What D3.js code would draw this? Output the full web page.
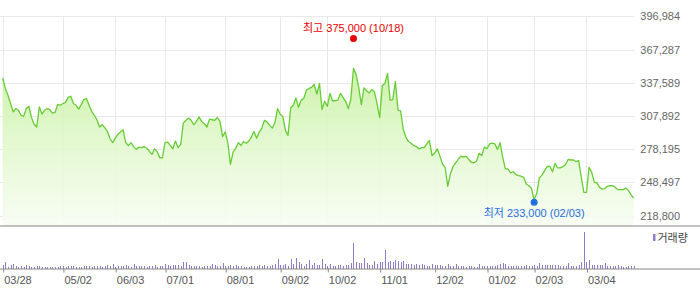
<!DOCTYPE html>
<html>
<head>
<meta charset="utf-8">
<script src="https://cdn.jsdelivr.net/npm/d3@7"></script>
<style>
  body { margin: 0; background: #fff; }
  svg { display: block; font-family: "Liberation Sans", "Noto Sans CJK KR", sans-serif; }
</style>
</head>
<body>
<div id="chart"></div>
<script>
const width = 700;
const height = 289;

// 일별 종가 (03/28 ~ 03/28, 거래일 기준)
const closes = [
  342000,332500,326500,319000,311500,314500,313000,308500,307500,314500,
  316500,306500,300500,298000,316000,309500,313000,314500,313500,310500,
  311000,318000,317500,319000,320000,324500,325500,319000,317500,314000,
  318000,322500,323500,317500,312000,308500,304500,298000,300000,297500,
  294000,287500,284000,288000,291500,293500,295500,284000,281500,284000,
  280500,278000,280000,279500,280500,279000,276500,273500,278500,276000,
  270500,270500,284000,284500,281500,278500,285500,279500,282500,301500,
  304000,306000,304000,300000,303000,307000,303000,301000,298000,305000,
  304500,304000,306500,303000,289500,293500,284000,264500,275500,279000,
  284000,281500,285000,283500,285500,289000,294000,288000,293500,297000,
  304000,302500,299500,297000,302000,314500,309500,307500,295000,290500,
  315000,317500,324000,315500,322000,323500,331000,332500,333500,336000,
  327500,337000,313500,321000,316500,328000,321500,321500,322000,328000,
  324500,321000,314500,323000,350500,345000,333500,318000,333000,330500,
  328500,331500,329500,319000,306500,335000,337000,346000,322000,322500,
  338500,313000,312500,296000,289000,285000,283500,281500,280500,278500,
  279500,279500,283000,286000,272500,274500,278500,272000,265000,262000,
  245000,256000,262500,266000,269000,272000,271000,272000,269000,266500,
  266000,267500,274500,272500,280000,278500,283000,283500,283000,278000,
  284000,271000,260500,260500,257000,258000,255500,254500,254000,253000,
  247000,245500,243000,233000,238500,252500,255000,259000,262500,263000,
  258000,265500,261500,261500,262500,264500,269000,268500,268500,267000,
  268000,253500,239500,239500,262000,257500,248500,248000,244000,242500,
  243000,245000,245500,245500,244000,242000,242000,242000,243500,241500,
  237500,234500
];

// 거래량 (천주)
const volumes = [
  64,126,38,66,85,44,24,45,25,63,
  44,25,24,46,44,24,25,26,24,25,
  24,26,45,44,25,46,44,45,24,25,
  26,44,46,45,24,44,45,46,25,44,
  64,45,86,24,44,46,45,65,44,25,
  86,44,45,46,44,24,45,44,64,25,
  44,45,85,64,44,65,63,66,44,126,
  125,64,45,44,46,44,24,45,44,46,
  86,64,45,44,106,44,46,65,44,64,
  45,44,24,25,26,44,45,46,64,44,
  65,44,46,64,86,186,64,65,85,44,
  187,85,206,126,86,44,85,166,64,106,
  64,65,186,86,44,85,45,44,64,65,
  44,64,66,106,506,126,105,106,206,105,
  64,65,146,86,126,125,366,126,146,125,
  166,146,126,146,85,86,84,64,86,65,
  85,64,44,45,86,64,65,64,44,45,
  86,44,45,85,44,46,44,25,44,45,
  24,25,86,44,45,44,46,44,45,64,
  85,106,86,44,45,44,46,44,45,44,
  64,44,45,64,44,106,64,65,64,66,
  64,65,63,44,45,44,106,44,45,44,
  64,126,726,126,166,64,65,64,66,64,
  106,44,45,44,46,64,44,24,25,44,
  45,44
];

// x축 눈금 (거래일 인덱스와 라벨)
const tickIndex = [0, 23, 43, 62, 85, 106, 124, 144, 165, 185, 203, 223];
const tickLabels = ["03/28", "05/02", "06/03", "07/01", "08/01", "09/02", "10/02", "11/01", "12/02", "01/02", "02/03", "03/04"];

// y축 눈금
const priceTicks = [218800, 248497, 278195, 307892, 337589, 367287, 396984];

// 최고/최저 표시
const highValue = 375000, highIndex = 134, highLabel = "10/18";
const lowValue = 233000, lowIndex = 203, lowLabel = "02/03";

const svg = d3.select("#chart")
    .append("svg")
    .attr("width", width)
    .attr("height", height);

const plotRight = 634.3;
const priceBottom = 225.5;
const volBase = 268.5;

const x = d3.scaleLinear()
    .domain([0, closes.length - 1])
    .range([2.7, 633.6]);

const y = d3.scaleLinear()
    .domain([218800, 396984])
    .range([215.6, 16.3]);

const yVol = d3.scaleLinear()
    .domain([0, d3.max(volumes)])
    .range([volBase, 232]);

// 그라데이션
const defs = svg.append("defs");
const grad = defs.append("linearGradient")
    .attr("id", "areaFill")
    .attr("gradientUnits", "userSpaceOnUse")
    .attr("x1", 0).attr("x2", 0)
    .attr("y1", 60).attr("y2", priceBottom);
grad.append("stop").attr("offset", "0%").attr("stop-color", "#c4f09b");
grad.append("stop").attr("offset", "45%").attr("stop-color", "#def7c8");
grad.append("stop").attr("offset", "100%").attr("stop-color", "#f8fdf3");

// 가로 그리드
svg.append("g")
    .selectAll("line")
    .data(priceTicks)
    .enter()
    .append("line")
    .attr("x1", 0)
    .attr("x2", plotRight)
    .attr("y1", d => Math.round(y(d)) + 0.5)
    .attr("y2", d => Math.round(y(d)) + 0.5)
    .style("stroke", "#e9e9e9")
    .style("stroke-width", 1);

// 세로 그리드
svg.append("g")
    .selectAll("line")
    .data(tickIndex)
    .enter()
    .append("line")
    .attr("x1", d => Math.round(x(d)) + 0.5)
    .attr("x2", d => Math.round(x(d)) + 0.5)
    .attr("y1", y(396984))
    .attr("y2", priceBottom)
    .style("stroke", "#e9e9e9")
    .style("stroke-width", 1);

// 영역
const area = d3.area()
    .x((d, i) => x(i))
    .y0(priceBottom)
    .y1(d => y(d));

svg.append("path")
    .datum(closes)
    .attr("d", area)
    .style("fill", "url(#areaFill)")
    .style("opacity", 0.9);

// 라인
const line = d3.line()
    .x((d, i) => x(i))
    .y(d => y(d));

svg.append("path")
    .datum(closes)
    .attr("d", line)
    .style("fill", "none")
    .style("stroke", "#66cc33")
    .style("stroke-width", 1.3)
    .style("stroke-linejoin", "round");

// 구분선
svg.append("line")
    .attr("x1", 0).attr("x2", width)
    .attr("y1", priceBottom + 0.5).attr("y2", priceBottom + 0.5)
    .style("stroke", "#858585");

// 오른쪽 축
const yAxis = svg.append("g")
    .attr("transform", `translate(${plotRight},0)`)
    .call(d3.axisRight(y).tickValues(priceTicks).tickSize(0).tickPadding(6).tickFormat(d3.format(",")));
yAxis.select(".domain").remove();
yAxis.selectAll("text")
    .style("font-family", "Liberation Sans, sans-serif")
    .style("font-size", "11px")
    .style("fill", "#666");

// 거래량 막대
svg.append("g")
    .selectAll("rect")
    .data(volumes)
    .enter()
    .append("rect")
    .attr("x", (d, i) => Math.round(x(i)))
    .attr("width", 1)
    .attr("y", d => yVol(d))
    .attr("height", d => volBase - yVol(d))
    .style("fill", "#8f7cc6")
    .style("shape-rendering", "crispEdges");

// x축
const xAxis = svg.append("g")
    .attr("transform", `translate(0,${volBase})`)
    .call(d3.axisBottom(x).tickValues(tickIndex).tickSize(4).tickFormat((d, i) => tickLabels[i]));
xAxis.select(".domain").remove();
xAxis.selectAll(".tick line")
    .attr("transform", "translate(0.5,0)")
    .style("stroke", "#888");
xAxis.selectAll("text")
    .attr("text-anchor", "start")
    .attr("x", 1)
    .attr("y", 7.5)
    .style("font-family", "Liberation Sans, sans-serif")
    .style("font-size", "11px")
    .style("fill", "#555");

svg.append("line")
    .attr("x1", 0).attr("x2", width)
    .attr("y1", volBase + 0.5).attr("y2", volBase + 0.5)
    .style("stroke", "#888");

// 범례
svg.append("rect")
    .attr("x", 653).attr("y", 234)
    .attr("width", 2.5).attr("height", 7)
    .style("fill", "#8f7cc6");
svg.append("text")
    .attr("x", 657.5).attr("y", 241.5)
    .style("font-size", "11px")
    .style("fill", "#444")
    .text("거래량");

// 최고/최저
svg.append("circle")
    .attr("cx", x(highIndex)).attr("cy", y(highValue) - 2.5)
    .attr("r", 3.5)
    .style("fill", "#e60000");
svg.append("text")
    .attr("x", x(highIndex)).attr("y", 32)
    .attr("text-anchor", "middle")
    .style("font-size", "11px")
    .style("fill", "#e60000")
    .text(`최고 ${d3.format(",")(highValue)} (${highLabel})`);

svg.append("circle")
    .attr("cx", x(lowIndex)).attr("cy", y(lowValue) + 2.5)
    .attr("r", 3.5)
    .style("fill", "#1f6fdd");
svg.append("text")
    .attr("x", x(lowIndex)).attr("y", 216.5)
    .attr("text-anchor", "middle")
    .style("font-size", "11px")
    .style("fill", "#1f6fdd")
    .text(`최저 ${d3.format(",")(lowValue)} (${lowLabel})`);
</script>
</body>
</html>
